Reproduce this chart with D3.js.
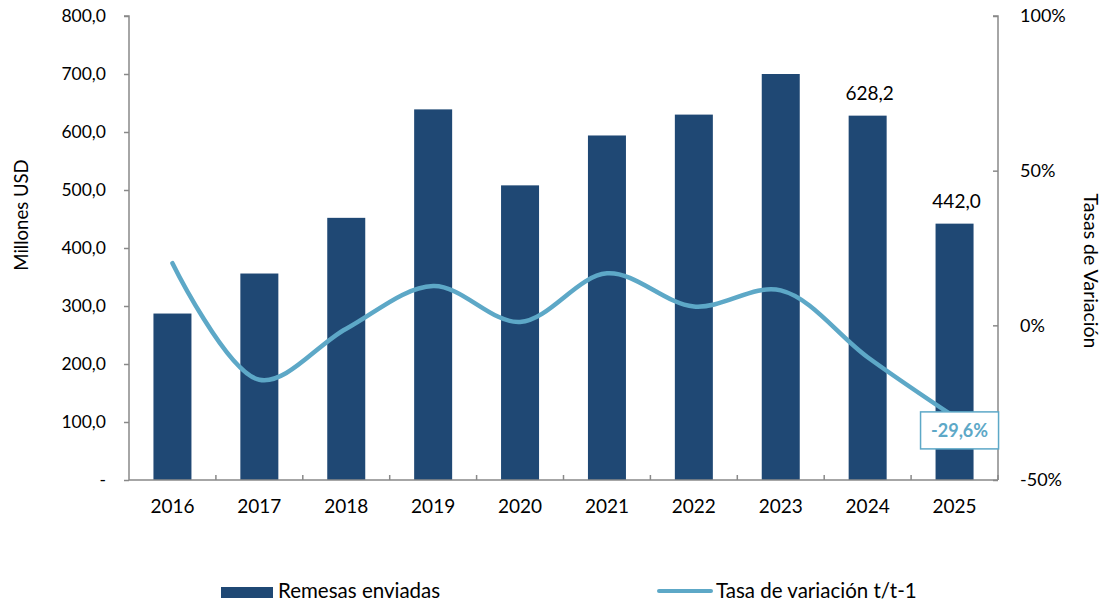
<!DOCTYPE html>
<html><head><meta charset="utf-8">
<script src="https://cdn.jsdelivr.net/npm/d3@7"></script>
<style>body{margin:0;background:#fff}svg{display:block}text{font-family:Lato,"Open Sans",sans-serif;fill:#000}</style>
</head><body><svg id="c" width="1104" height="603"></svg>
<script>
const years=["2016","2017","2018","2019","2020","2021","2022","2023","2024","2025"];
const remesas=[287,356,452,639,508,594,630,700,628.2,442.0];
const tasa=[20.1,-17.6,-1.1,12.7,1.1,16.8,6.1,11.3,-10.3,-29.6];
const leftTicks=[0,100,200,300,400,500,600,700,800];
const rightTicks=[-50,0,50,100];
const barLabels=[null,null,null,null,null,null,null,null,"628,2","442,0"];
const lineLabels=[null,null,null,null,null,null,null,null,null,"-29,6%"];

const svg=d3.select("#c");
const L=129,R=998,T=16,B=480;
const xc=d3.scaleBand().domain(years).range([L,R]);
const y=d3.scaleLinear().domain([0,800]).range([B,T]);
const y2=d3.scaleLinear().domain([-50,100]).range([B,T]);
const axisCol="#898989";
const fmt=v=>v===0?"-":d3.format(".1f")(v).replace(".",",");
const cx=d=>xc(d)+xc.bandwidth()/2;

// bars
svg.append("g").selectAll("rect").data(remesas).join("rect")
 .attr("x",(d,i)=>cx(years[i])-19).attr("width",38)
 .attr("y",d=>y(d)).attr("height",d=>B-y(d)).attr("fill","#1F4874");

// left axis
const ga=svg.append("g").attr("transform",`translate(${L},0)`)
 .call(d3.axisLeft(y).tickValues(leftTicks).tickSize(5).tickPadding(18).tickFormat(fmt));
ga.select(".domain").attr("stroke",axisCol).attr("stroke-width",1.5).attr("d",`M-5,${T}H0V${B}`);
ga.selectAll(".tick line").attr("stroke",axisCol).attr("stroke-width",1.5);
ga.selectAll("text").attr("font-size",17.5).style("font-family","Lato,sans-serif");

// right axis
const gr=svg.append("g").attr("transform",`translate(${R},0)`)
 .call(d3.axisRight(y2).tickValues(rightTicks).tickSize(-5).tickPadding(22).tickFormat(d=>d+"%"));
gr.select(".domain").attr("stroke",axisCol).attr("stroke-width",1.5).attr("d",`M-5,${T}H0V${B}`);
gr.selectAll(".tick line").attr("stroke",axisCol).attr("stroke-width",1.5);
gr.selectAll("text").attr("font-size",18).style("font-family","Lato,sans-serif");

// bottom axis
const gb=svg.append("g").attr("transform",`translate(0,${B})`)
 .call(d3.axisBottom(xc).tickSize(0).tickPadding(20));
gb.select(".domain").attr("stroke",axisCol).attr("stroke-width",1.5).attr("d",`M${L},0H${R}`);
gb.selectAll("text").attr("font-size",19).style("font-family","Lato,sans-serif");
const sep=years.map(d=>xc(d)).slice(1).concat([R]);
svg.append("g").selectAll("line").data(sep).join("line")
 .attr("x1",d=>d).attr("x2",d=>d).attr("y1",B-5).attr("y2",B)
 .attr("stroke",axisCol).attr("stroke-width",1.5);

// line
const line=d3.line().x((d,i)=>cx(years[i])).y(d=>y2(d)).curve(d3.curveCatmullRom.alpha(0.5));
svg.append("path").datum(tasa).attr("d",line).attr("fill","none")
 .attr("stroke","#5DA8C7").attr("stroke-width",4.5).attr("stroke-linecap","round");

// bar labels
remesas.forEach((d,i)=>{
 if(!barLabels[i])return;
 svg.append("text").attr("x",cx(years[i])+2).attr("y",y(d)-16)
  .attr("text-anchor","middle").attr("font-size",19).text(barLabels[i]);
});

// line label
tasa.forEach((d,i)=>{
 if(!lineLabels[i])return;
 const px=cx(years[i]), py=y2(d);
 const g=svg.append("g");
 g.append("rect").attr("x",px-34).attr("y",py-5).attr("width",78).attr("height",37)
  .attr("fill","#fff").attr("stroke","#5DA8C7").attr("stroke-width",1.5);
 g.append("text").attr("x",px+5).attr("y",py+20).attr("text-anchor","middle")
  .attr("font-size",18).attr("font-weight","bold").style("fill","#5DA8C7").text(lineLabels[i]);
});

// axis titles
svg.append("text").attr("transform","translate(28,215) rotate(-90)").attr("text-anchor","middle")
 .attr("font-size",18.5).text("Millones USD");
svg.append("text").attr("transform","translate(1084,271) rotate(90)").attr("text-anchor","middle")
 .attr("font-size",19.5).text("Tasas de Variación");

// legend
svg.append("rect").attr("x",221).attr("y",587).attr("width",52).attr("height",11).attr("fill","#1F4874");
svg.append("text").attr("x",278).attr("y",598).attr("font-size",20.5).text("Remesas enviadas");
svg.append("line").attr("x1",659).attr("x2",711).attr("y1",591).attr("y2",591)
 .attr("stroke","#5DA8C7").attr("stroke-width",4).attr("stroke-linecap","round");
svg.append("text").attr("x",716).attr("y",598).attr("font-size",20.5).text("Tasa de variación t/t-1");
</script></body></html>
